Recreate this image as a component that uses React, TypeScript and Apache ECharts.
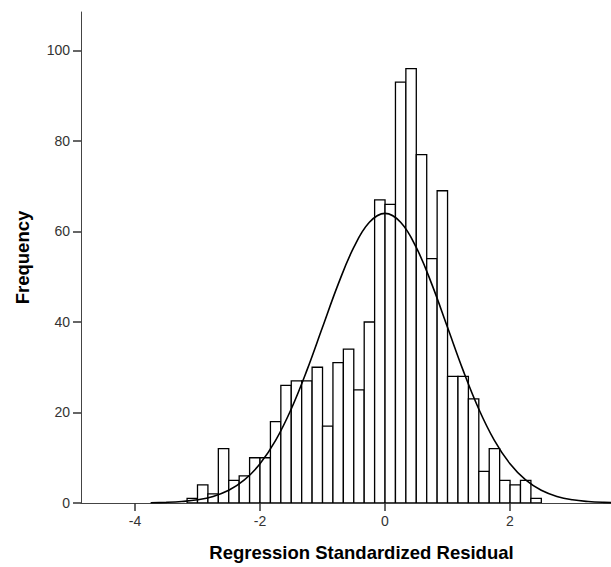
import { useEffect, useRef } from "react";
import * as echarts from "echarts";

// Histogram bins: start of first bin and width (standardized residual units)
const BIN_START = -3.1667;
const BIN_WIDTH = 0.1667;
const counts = [
  1, 4, 2, 12, 5, 6, 10, 10, 18, 26, 27, 27, 30, 17, 31, 34, 25, 40, 67, 66,
  93, 96, 77, 54, 69, 28, 28, 23, 7, 12, 5, 4, 5, 1,
];

// Normal curve
const curveX = [
  -3.75, -3.5, -3.25, -3.0, -2.75, -2.5, -2.25, -2.0, -1.75, -1.5, -1.25, -1.0,
  -0.75, -0.5, -0.25, 0, 0.25, 0.5, 0.75, 1.0, 1.25, 1.5, 1.75, 2.0, 2.25, 2.5,
  2.75, 3.0, 3.25, 3.5, 3.75, 4.0,
];
const curveY = [
  0.06, 0.14, 0.33, 0.71, 1.46, 2.81, 5.09, 8.66, 13.84, 20.78, 29.3, 38.82,
  48.31, 56.48, 62.03, 64.0, 62.03, 56.48, 48.31, 38.82, 29.3, 20.78, 13.84,
  8.66, 5.09, 2.81, 1.46, 0.71, 0.33, 0.14, 0.06, 0.02,
];

const yTicks = [0, 20, 40, 60, 80, 100];
const xTicks = [-4, -2, 0, 2];

const FONT = "'Liberation Sans', Arial, sans-serif";

export default function App() {
  const ref = useRef<HTMLDivElement>(null);
  useEffect(() => {
    const chart = echarts.init(ref.current!, null, { renderer: "svg" });
    const bins = counts.map((c, i) => [
      BIN_START + i * BIN_WIDTH,
      BIN_START + (i + 1) * BIN_WIDTH,
      c,
    ]);
    const curve = curveX.map((x, i) => [x, curveY[i]]);
    chart.setOption({
      animation: false,
      backgroundColor: "#ffffff",
      grid: { left: 81, right: 0, top: 12, bottom: 61.3 },
      xAxis: {
        type: "value",
        min: -4.864,
        max: 3.616,
        name: "Regression Standardized Residual",
        nameLocation: "middle",
        nameGap: 40,
        nameTextStyle: {
          fontFamily: FONT,
          fontWeight: "bold",
          fontSize: 18.5,
          color: "#000",
          padding: [0, 0, 0, 31],
        },
        axisLine: { show: true, onZero: false, lineStyle: { color: "#444", width: 1 } },
        axisTick: {
          show: true,
          length: 8,
          customValues: xTicks,
          lineStyle: { color: "#333", width: 1.5 },
        },
        axisLabel: {
          customValues: xTicks,
          margin: 11,
          fontFamily: FONT,
          fontSize: 14,
          color: "#333",
        },
        splitLine: { show: false },
      },
      yAxis: {
        type: "value",
        min: 0,
        max: 108.5,
        name: "Frequency",
        nameLocation: "middle",
        nameGap: 49,
        nameTextStyle: {
          fontFamily: FONT,
          fontWeight: "bold",
          fontSize: 18.5,
          color: "#000",
        },
        axisLine: { show: true, onZero: false, lineStyle: { color: "#444", width: 1 } },
        axisTick: {
          show: true,
          length: 8,
          customValues: yTicks,
          lineStyle: { color: "#333", width: 1.5 },
        },
        axisLabel: {
          customValues: yTicks,
          margin: 11,
          fontFamily: FONT,
          fontSize: 14,
          color: "#333",
        },
        splitLine: { show: false },
      },
      series: [
        {
          type: "custom",
          data: bins,
          encode: { x: [0, 1], y: 2 },
          clip: true,
          renderItem: (_params: any, api: any) => {
            const x0 = api.value(0);
            const x1 = api.value(1);
            const v = api.value(2);
            const p0 = api.coord([x0, v]);
            const p1 = api.coord([x1, 0]);
            return {
              type: "rect",
              shape: {
                x: p0[0],
                y: p0[1],
                width: p1[0] - p0[0],
                height: p1[1] - p0[1],
              },
              style: { fill: "#ffffff", stroke: "#000000", lineWidth: 1.3 },
            };
          },
          z: 2,
        },
        {
          type: "line",
          data: curve,
          smooth: 0.4,
          symbol: "none",
          clip: true,
          lineStyle: { color: "#000000", width: 1.6 },
          z: 3,
        },
      ],
    });
    return () => chart.dispose();
  }, []);
  return (
    <div
      ref={ref}
      style={{
        position: "fixed",
        left: 0,
        top: 0,
        width: 611,
        height: 567,
        background: "#fff",
      }}
    />
  );
}
